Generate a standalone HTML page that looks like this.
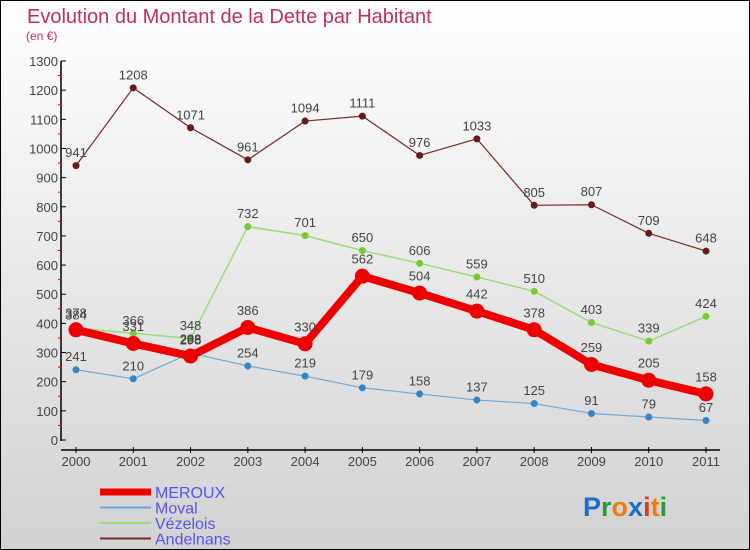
<!DOCTYPE html>
<html><head><meta charset="utf-8"><style>
body{margin:0;width:750px;height:550px;overflow:hidden;font-family:"Liberation Sans",sans-serif}
#wrap{position:absolute;left:0;top:0;width:748px;height:548px;border:1px solid #000;background:linear-gradient(#fff,#d2d2d2)}
</style></head><body>
<div id="wrap">
<svg id="chart" width="750" height="550" style="position:absolute;left:-1px;top:-1px">
<text x="27" y="23" font-size="20" fill="#c0305a">Evolution du Montant de la Dette par Habitant</text>
<text x="26" y="40" font-size="12" fill="#c0305a">(en €)</text>
<g id="axes"></g><g id="series"></g><g id="legend"></g>
<text x="583" y="516" font-size="27" font-weight="bold"><tspan fill="#1a6fc9">P</tspan><tspan fill="#2a9a3a">r</tspan><tspan fill="#f07c10">o</tspan><tspan fill="#1a6fc9">x</tspan><tspan fill="#e23a20">i</tspan><tspan fill="#f07c10">t</tspan><tspan fill="#2a9a3a">i</tspan></text>
</svg></div>
<script>
const years=["2000","2001","2002","2003","2004","2005","2006","2007","2008","2009","2010","2011"];
const yTicks=[0,100,200,300,400,500,600,700,800,900,1000,1100,1200,1300];
const meroux=[378,331,288,386,330,562,504,442,378,259,205,158];
const moval=[241,210,298,254,219,179,158,137,125,91,79,67];
const vezelois=[384,366,348,732,701,650,606,559,510,403,339,424];
const andelnans=[941,1208,1071,961,1094,1111,976,1033,805,807,709,648];
const NS="http://www.w3.org/2000/svg";
function X(i){return 76+i*(630/11);}
function Y(v){return 440-v*(379/1300);}
function mk(t,a,p){const e=document.createElementNS(NS,t);for(const k in a)e.setAttribute(k,a[k]);p.appendChild(e);return e;}
const ax=document.getElementById('axes');
let l=mk('line',{x1:61,y1:61,x2:61,y2:441,stroke:'#000','stroke-width':1.5},ax);


l=mk('line',{x1:61,y1:450,x2:720,y2:450,stroke:'#000','stroke-width':1.5},ax);


yTicks.forEach(v=>{
 mk('line',{x1:61,x2:66,y1:Y(v),y2:Y(v),stroke:'#000'},ax);
 if(v<1300)mk('line',{x1:58,x2:62,y1:Y(v+50),y2:Y(v+50),stroke:'#e00'},ax);
 const t=mk('text',{x:58,y:Y(v)+5,'font-size':13,'text-anchor':'end',fill:'#444'},ax);
 t.textContent=v;
 
 
});
years.forEach((y,i)=>{
 mk('line',{x1:X(i),x2:X(i),y1:447,y2:453,stroke:'#000'},ax);
 const t=mk('text',{x:X(i),y:466,'font-size':13,'text-anchor':'middle',fill:'#444'},ax);
 t.textContent=y;
 
 
});
const sg=document.getElementById('series');
const S=[
 {n:'andelnans',d:andelnans,c:'#7a2a2a',w:1.2,r:3.5,f:'#6a1a1a',label:'Andelnans'},
 {n:'vezelois',d:vezelois,c:'#99dd77',w:1.5,r:3.5,f:'#77cc33',label:'Vézelois'},
 {n:'moval',d:moval,c:'#6fa8d6',w:1.2,r:3.5,f:'#3385c6',label:'Moval'},
 {n:'meroux',d:meroux,c:'#ee0000',w:8,r:7.5,f:'#ee0000',label:'MEROUX'}];
S.forEach(s=>{
 const p=mk('polyline',{points:s.d.map((v,i)=>X(i)+','+Y(v)).join(' '),fill:'none',stroke:s.c,'stroke-width':s.w,'stroke-linejoin':'round'},sg);
 
 
 s.d.forEach((v,i)=>{
  const c=mk('circle',{cx:X(i),cy:Y(v),r:s.r,fill:s.f},sg);
  
  
  const t=mk('text',{x:X(i),y:Y(v)-(s.r+5),'font-size':13,'text-anchor':'middle',fill:'#444'},sg);
  t.textContent=v;
  
  
 });
});
const lg=document.getElementById('legend');
[S[3],S[2],S[1],S[0]].forEach((s,k)=>{
 const y=492+k*15.5;
 const ln=mk('line',{x1:100,x2:151,y1:y,y2:y,stroke:s.c,'stroke-width':s.n=='meroux'?7:2},lg);
 
 
 const t=mk('text',{x:155,y:y+6,'font-size':16,fill:'#5555ee'},lg);
 t.textContent=s.label;
 
 
});
</script>
</body></html>
